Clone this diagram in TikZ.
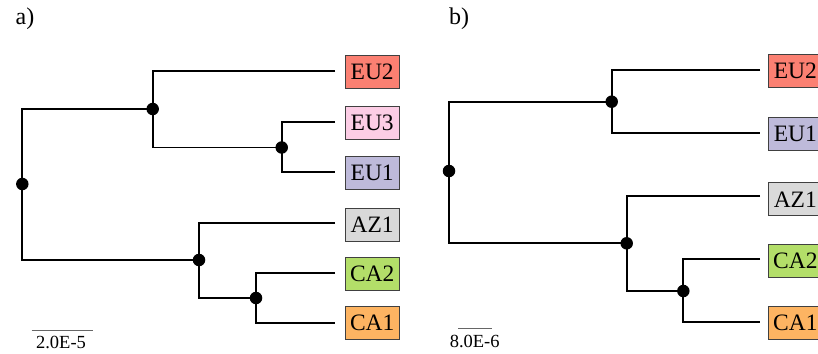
\documentclass[tikz,border=0pt]{standalone}
\usepackage{fontspec}
\setmainfont{Liberation Serif}
\definecolor{cEUtwo}{HTML}{FB8072}
\definecolor{cEUthree}{HTML}{FCCDE5}
\definecolor{cEUone}{HTML}{BEBADA}
\definecolor{cAZone}{HTML}{D9D9D9}
\definecolor{cCAtwo}{HTML}{B3DE69}
\definecolor{cCAone}{HTML}{FDB462}
\begin{document}
\begin{tikzpicture}[x=1pt,y=-1pt,
  branch/.style={line width=1.7pt,line join=miter},
  dot/.style={circle,fill=black,inner sep=0pt,minimum size=12.5pt},
  leaf/.style={draw=black!75,line width=0.8pt,minimum width=54pt,minimum height=33pt,inner sep=0pt,font=\fontsize{23.5}{24}\selectfont},
  panel/.style={font=\fontsize{24}{26}\selectfont},
  scalebar/.style={line width=1pt,draw=black!60},
  scaletext/.style={font=\fontsize{18.5}{20}\selectfont,inner sep=0pt}]
\useasboundingbox (0,0) rectangle (818,353);
\clip (0,0) rectangle (818,353);

% ---------- panel a ----------
\node[panel] (la) at (25,19) {a)};
\coordinate (aR) at (22.3,184);
\coordinate (aU) at (152.7,109);
\coordinate (aE) at (281.7,147.5);
\coordinate (aL) at (199,260);
\coordinate (aC) at (256,298);
\coordinate (aEUtwoE) at (335,71);
\coordinate (aEUthreeE) at (335,122);
\coordinate (aEUoneE) at (335,172.3);
\coordinate (aAZoneE) at (335,223.3);
\coordinate (aCAtwoE) at (335,273.3);
\coordinate (aCAoneE) at (335,323);
\node[leaf,fill=cEUtwo] (aEUtwo) at (372.2,71.5) {EU2};
\node[leaf,fill=cEUthree] (aEUthree) at (372.2,123.3) {EU3};
\node[leaf,fill=cEUone] (aEUone) at (372.2,173.3) {EU1};
\node[leaf,fill=cAZone] (aAZone) at (372.2,224.7) {AZ1};
\node[leaf,fill=cCAtwo] (aCAtwo) at (372.2,274) {CA2};
\node[leaf,fill=cCAone] (aCAone) at (372.2,323.3) {CA1};
\draw[branch] (aU) -| (aR) |- (aL);
\draw[branch] (aEUtwoE) -| (aU) |- (aE);
\draw[branch] (aEUthreeE) -| (aE) |- (aEUoneE);
\draw[branch] (aAZoneE) -| (aL) |- (aC);
\draw[branch] (aCAtwoE) -| (aC) |- (aCAoneE);
\node[dot] (daR) at (aR) {};
\node[dot] (daU) at (aU) {};
\node[dot] (daE) at (aE) {};
\node[dot] (daL) at (aL) {};
\node[dot] (daC) at (aC) {};
\coordinate (saA) at (31.7,330);
\coordinate (saB) at (92.7,330);
\draw[scalebar] (saA) -- (saB);
\node[scaletext] (sat) at (61,342.5) {2.0E-5};

% ---------- panel b ----------
\node[panel] (lb) at (459,19) {b)};
\coordinate (bR) at (449,171);
\coordinate (bU) at (611.7,101.7);
\coordinate (bL) at (626.7,243.3);
\coordinate (bC) at (683.3,291);
\coordinate (bEUtwoE) at (760,70);
\coordinate (bEUoneE) at (760,133.3);
\coordinate (bAZoneE) at (760,196);
\coordinate (bCAtwoE) at (760,259);
\coordinate (bCAoneE) at (760,322.3);
\node[leaf,fill=cEUtwo] (bEUtwo) at (795.3,71.3) {EU2};
\node[leaf,fill=cEUone] (bEUone) at (795.3,133.7) {EU1};
\node[leaf,fill=cAZone] (bAZone) at (795.3,199.3) {AZ1};
\node[leaf,fill=cCAtwo] (bCAtwo) at (795.3,260.7) {CA2};
\node[leaf,fill=cCAone] (bCAone) at (795.3,323.3) {CA1};
\draw[branch] (bU) -| (bR) |- (bL);
\draw[branch] (bEUtwoE) -| (bU) |- (bEUoneE);
\draw[branch] (bAZoneE) -| (bL) |- (bC);
\draw[branch] (bCAtwoE) -| (bC) |- (bCAoneE);
\node[dot] (dbR) at (bR) {};
\node[dot] (dbU) at (bU) {};
\node[dot] (dbL) at (bL) {};
\node[dot] (dbC) at (bC) {};
\coordinate (sbA) at (458.3,328.3);
\coordinate (sbB) at (491.7,328.3);
\draw[scalebar] (sbA) -- (sbB);
\node[scaletext] (sbt) at (474.7,341) {8.0E-6};
\end{tikzpicture}
\end{document}
